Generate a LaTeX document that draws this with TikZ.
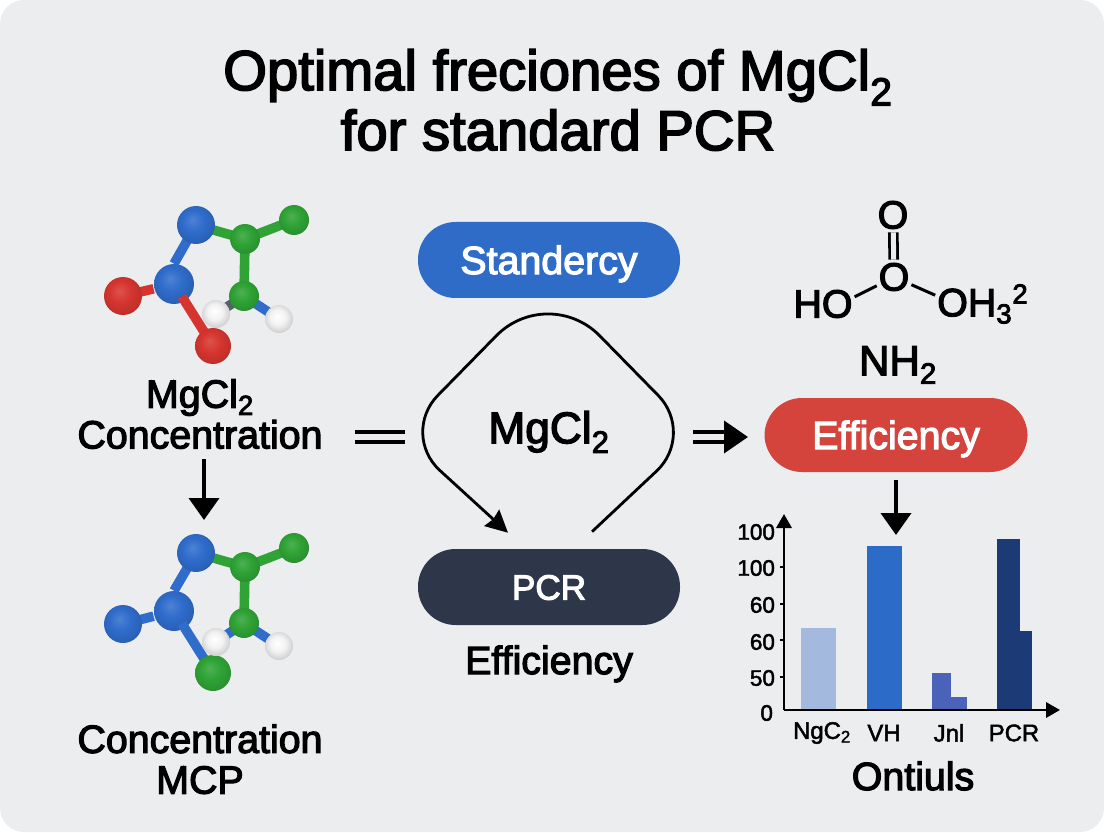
\documentclass[tikz,border=0pt]{standalone}
\usepackage{fontspec}
\setmainfont{Liberation Sans}
\newfontfamily\medfont{Liberation Sans}[FakeBold=3]
\newfontfamily\smallmedfont{Liberation Sans}[FakeBold=2]
\usetikzlibrary{arrows.meta, positioning, calc}
\pgfdeclarelayer{backdrop}
\pgfdeclarelayer{lowatoms}
\pgfdeclarelayer{bonds}
\pgfsetlayers{backdrop,lowatoms,bonds,main}
\definecolor{pagegray}{HTML}{ECEDEF}
\definecolor{pillblue}{HTML}{2F6CC8}
\definecolor{pillred}{HTML}{D4443C}
\definecolor{pilldark}{HTML}{2D3749}
\definecolor{atomblue}{HTML}{2F6CCB}
\definecolor{atomgreen}{HTML}{2FA336}
\definecolor{atomred}{HTML}{D6352F}
\definecolor{barlight}{HTML}{A4B9DE}
\definecolor{barblue}{HTML}{2C6BC7}
\definecolor{barmid}{HTML}{4A62B8}
\definecolor{bardark}{HTML}{1C3A76}
\pgfdeclareradialshading{shadeblue}{\pgfpoint{-5bp}{7bp}}{color(0bp)=(atomblue!85!white); color(14bp)=(atomblue); color(28bp)=(atomblue!88!black); color(50bp)=(atomblue!70!black)}
\pgfdeclareradialshading{shadegreen}{\pgfpoint{-5bp}{7bp}}{color(0bp)=(atomgreen!85!white); color(14bp)=(atomgreen); color(28bp)=(atomgreen!88!black); color(50bp)=(atomgreen!70!black)}
\pgfdeclareradialshading{shadered}{\pgfpoint{-5bp}{7bp}}{color(0bp)=(atomred!85!white); color(14bp)=(atomred); color(28bp)=(atomred!88!black); color(50bp)=(atomred!70!black)}
\pgfdeclareradialshading{shadewhite}{\pgfpoint{-3bp}{5bp}}{color(0bp)=(white); color(14bp)=(white!95!black); color(26bp)=(white!82!black); color(50bp)=(white!65!black)}
\newcommand{\two}{\textsubscript{2}}

\begin{document}
\begin{tikzpicture}[
    label28/.style={font=\fontsize{28}{29}\selectfont\medfont, align=center, inner sep=0pt},
    pill/.style={rectangle, minimum width=6.55cm, minimum height=1.9cm, rounded corners=0.94cm, text=white, text height=20pt, text depth=0pt, font=\fontsize{28}{29}\selectfont\medfont},
    atomB/.style={circle, inner sep=0pt, shade, shading=shadeblue},
    atomG/.style={circle, inner sep=0pt, shade, shading=shadegreen, minimum size=0.75cm},
    atomR/.style={circle, inner sep=0pt, shade, shading=shadered},
    atomW/.style={circle, inner sep=0pt, shade, shading=shadewhite, minimum size=0.7cm},
    bond/.style={line width=0.24cm},
    arrow/.style={-{Triangle[length=0.55cm, width=0.75cm]}, line width=0.1cm},
    thin arrow/.style={-{Stealth[length=0.55cm, width=0.55cm, inset=0.05cm]}, line width=0.07cm},
    axis/.style={-{Triangle[length=0.35cm, width=0.38cm]}, line width=0.065cm},
    tick/.style={line width=0.06cm},
    ticklabel/.style={font=\fontsize{16}{17}\selectfont\smallmedfont, inner sep=0pt},
    barlabel/.style={font=\fontsize{17}{18}\selectfont\smallmedfont, inner sep=0pt}
]

% ============ BACKGROUND ============
\useasboundingbox (0,0) rectangle (27.6,20.8);
\begin{pgfonlayer}{backdrop}
\fill[white] (0,0) rectangle (27.6,20.8);
\fill[pagegray, rounded corners=0.6cm] (0,0) rectangle (27.6,20.8);
\end{pgfonlayer}

% Title
\node[font=\fontsize{40}{42.7}\selectfont\medfont, align=center, inner sep=0pt] (title) at (13.95,18.3) {Optimal freciones of MgCl\two\\for standard PCR};

% ============ LEFT COLUMN ============
% Top molecule
\begin{pgfonlayer}{lowatoms}
\node[atomB, minimum size=1cm] (bl1) at (4.35,13.7) {};
\end{pgfonlayer}
\node[atomB, minimum size=0.95cm] (bt1) at (4.9,15.175) {};
\node[atomG] (gt1) at (7.35,15.3) {};
\node[atomG] (gm1) at (6.125,14.825) {};
\node[atomG] (gl1) at (6.1,13.4) {};
\node[atomR, minimum size=0.95cm] (rl1) at (3.075,13.4) {};
\node[atomR, minimum size=0.9cm] (rb1) at (5.325,12.15) {};
\node[atomW] (wl1) at (5.4,12.95) {};
\node[atomW] (wr1) at (6.975,12.825) {};
\begin{pgfonlayer}{bonds}
\draw[bond, atomblue] (bt1.center) -- (bl1.north);
\draw[bond, atomgreen] (bt1.center) -- (gm1.center);
\draw[bond, atomgreen] (gm1.center) -- (gt1.center);
\draw[bond, atomgreen] (gm1.center) -- (gl1.center);
\draw[bond, atomred] ($(bl1)!0.4!(rl1)$) -- (rl1.center);
\draw[bond, atomred] ($(bl1)!0.2!(rb1)$) -- (rb1.center);
\draw[bond, atomblue] (gl1.center) -- (wr1.center);
\draw[bond, pilldark!80] (gl1.center) -- (wl1.center);
\end{pgfonlayer}

\node[label28] (conc1) at (5.0,10.45) {MgCl\two\\Concentration};
\coordinate (concend) at (5.1,7.8);
\draw[arrow] ([xshift=0.1cm,yshift=-0.25cm]conc1.south) -- (concend);

% Bottom molecule
\begin{pgfonlayer}{lowatoms}
\node[atomB, minimum size=1cm] (bl2) at (4.35,5.525) {};
\end{pgfonlayer}
\node[atomB, minimum size=0.95cm] (bt2) at (4.9,6.975) {};
\node[atomG] (gt2) at (7.35,7.1) {};
\node[atomG] (gm2) at (6.125,6.625) {};
\node[atomG] (gl2) at (6.1,5.225) {};
\node[atomB, minimum size=0.95cm] (bf2) at (3.075,5.2) {};
\node[atomG, minimum size=0.9cm] (gb2) at (5.325,3.975) {};
\node[atomW] (wl2) at (5.4,4.75) {};
\node[atomW] (wr2) at (6.975,4.65) {};
\begin{pgfonlayer}{bonds}
\draw[bond, atomblue] (bt2.center) -- (bl2.north);
\draw[bond, atomgreen] (bt2.center) -- (gm2.center);
\draw[bond, atomgreen] (gm2.center) -- (gt2.center);
\draw[bond, atomgreen] (gm2.center) -- (gl2.center);
\draw[bond, atomblue] ($(bl2)!0.4!(bf2)$) -- (bf2.center);
\draw[bond, atomblue] ($(bl2)!0.2!(gb2)$) -- (gb2.center);
\draw[bond, atomblue] (gl2.center) -- (wr2.center);
\draw[bond, atomblue] (gl2.center) -- (wl2.center);
\end{pgfonlayer}

\node[label28] (conc2) at (5.0,1.82) {Concentration\\MCP};

% ============ CENTRE COLUMN ============
\node[pill, fill=pillblue] (standercy) at (13.725,14.3) {Standercy};
\node[pill, fill=pilldark, text height=18pt, font=\fontsize{25}{26}\selectfont\medfont] (pcr) at (13.725,6.125) {PCR};
\node[label28, below=0.5cm of pcr] (effpcr) {Efficiency};
\node[font=\fontsize{31.5}{33}\selectfont\medfont, inner sep=0pt] (mgcl) at (13.725,10.0) {MgCl\two};

% Loop round the centre label
\coordinate (loopstart) at ([xshift=1.075cm,yshift=0.425cm]pcr.north);
\coordinate (loopend) at ([xshift=-1.025cm,yshift=0.4cm]pcr.north);
\coordinate (loopright) at (17.4,9.95);
\coordinate (looptop) at (13.7,13.725);
\coordinate (loopleft) at (10.0,9.95);
\draw[thin arrow] (loopstart) [rounded corners=1.35cm] -- (loopright) [rounded corners=1.85cm] -- (looptop) [rounded corners=1.35cm] -- (loopleft) -- (loopend);

% Equals and implies signs
\coordinate (eqleft) at (8.875,9.875);
\coordinate (eqright) at (10.125,9.875);
\draw[double=pagegray, double distance=0.17cm, line width=0.085cm] (eqleft) -- (eqright);
\coordinate (impleft) at (17.325,9.875);
\coordinate (impright) at (18.7,9.875);
\draw[double=pagegray, double distance=0.17cm, line width=0.085cm] (impleft) -- ++(0.8,0);
\draw[-{Triangle[length=0.6cm, width=0.8cm]}, line width=0.1cm] ($(impright)+(-0.6,0)$) -- (impright);

% ============ RIGHT COLUMN ============
% Structure formula
\node[label28] (otop) at (22.325,15.425) {O};
\node[label28] (omid) at (22.35,13.875) {O};
\node[label28] (hoh) at (20.575,13.2) {HO};
\node[label28, anchor=west] (ohh) at (23.425,13.2) {OH\textsubscript{3}\textsuperscript{2}};
\node[font=\fontsize{30}{31}\selectfont\medfont, inner sep=0pt] (nh) at (22.45,11.675) {NH\two};
\draw[double=pagegray, double distance=0.125cm, line width=0.07cm, shorten >=0.08cm, shorten <=0.08cm] (otop) -- (omid);
\draw[line width=0.075cm, shorten >=0.05cm, shorten <=0.05cm] (omid) -- ([yshift=-0.2cm]hoh.north east);
\draw[line width=0.075cm, shorten >=0.05cm, shorten <=0.05cm] (omid) -- ([yshift=-0.3cm]ohh.north west);

\node[pill, fill=pillred, minimum width=6.575cm, minimum height=1.85cm] (eff) at (22.4,9.925) {Efficiency};
\coordinate (effend) at (22.4,7.425);
\draw[arrow, shorten <=0.2cm] (eff.south) -- (effend);

% Bars
\fill[barlight] (20.025,3.05) rectangle (20.9,5.1);
\fill[barblue] (21.675,3.05) rectangle (22.55,7.15);
\fill[barmid] (23.3,3.05) rectangle (23.775,3.975);
\fill[barmid] (23.775,3.05) rectangle (24.175,3.375);
\fill[bardark] (24.925,3.05) rectangle (25.5,7.325);
\fill[bardark] (25.5,3.05) rectangle (25.8,5.025);

% Axes
\coordinate (origin) at (19.6,3.05);
\draw[axis] (origin) -- (19.6,7.95);
\draw[axis] (origin) -- (26.5,3.05);
\draw[tick] (19.5,6.625) -- (19.6,6.625);
\draw[tick] (19.5,5.7) -- (19.6,5.7);
\draw[tick] (19.5,4.8) -- (19.6,4.8);
\draw[tick] (19.5,3.875) -- (19.6,3.875);

% Axis labels
\node[ticklabel, anchor=east] (y100a) at (19.38,7.5) {100};
\node[ticklabel, anchor=east] (y100b) at (19.38,6.6) {100};
\node[ticklabel, anchor=east] (y60a) at (19.38,5.675) {60};
\node[ticklabel, anchor=east] (y60b) at (19.38,4.75) {60};
\node[ticklabel, anchor=east] (y50) at (19.38,3.85) {50};
\node[ticklabel, anchor=east] (y0) at (19.33,2.975) {0};
\node[barlabel] (xngc) at (20.55,2.475) {NgC\two};
\node[barlabel] (xvh) at (22.1,2.475) {VH};
\node[barlabel] (xjnl) at (23.725,2.475) {Jnl};
\node[barlabel] (xpcr) at (25.35,2.475) {PCR};
\node[label28] (ontiuls) at (22.825,1.4) {Ontiuls};

\end{tikzpicture}
\end{document}
